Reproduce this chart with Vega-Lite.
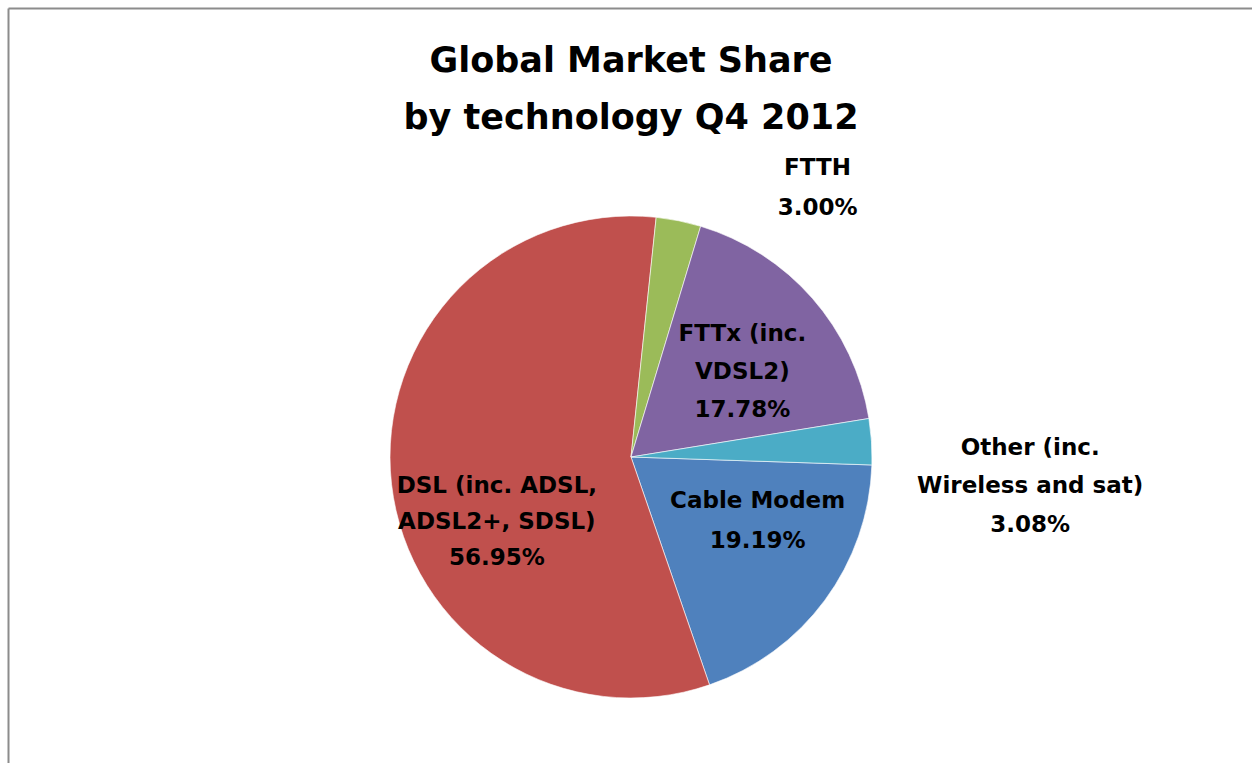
{
  "$schema": "https://vega.github.io/schema/vega-lite/v6.json",
  "width": 1246,
  "height": 898,
  "autosize": {"type": "none"},
  "padding": {"left": 8, "top": 8, "right": -2, "bottom": -143},
  "background": "white",
  "view": {"stroke": null},
  "config": {
    "view": {"stroke": null},
    "text": {"font": "DejaVu Sans", "fontWeight": "bold", "fontSize": 23, "color": "#000000"}
  },
  "title": {
    "text": ["Global Market Share", "by technology Q4 2012"],
    "font": "DejaVu Sans",
    "fontWeight": "bold",
    "fontSize": 35,
    "lineHeight": 57,
    "color": "#000000",
    "anchor": "middle",
    "baseline": "bottom",
    "offset": -163
  },
  "data": {
    "values": [
      {"category": "Cable Modem", "share": 19.19, "text": "Cable Modem\n19.19%"},
      {"category": "DSL", "share": 56.95, "text": "DSL (inc. ADSL,\nADSL2+, SDSL)\n56.95%"},
      {"category": "FTTH", "share": 3.00, "text": "FTTH\n3.00%"},
      {"category": "FTTx", "share": 17.78, "text": "FTTx (inc.\nVDSL2)\n17.78%"},
      {"category": "Other", "share": 3.08, "text": "Other (inc.\nWireless and sat)\n3.08%"}
    ]
  },
  "layer": [
    {
      "encoding": {
        "theta": {"field": "share", "type": "quantitative", "stack": true, "scale": {"range": [1.604, 7.887]}},
        "color": {
          "field": "category",
          "type": "nominal",
          "legend": null,
          "scale": {
            "domain": ["Cable Modem", "DSL", "FTTH", "FTTx", "Other"],
            "range": ["#4F81BD", "#C0504D", "#9BBB59", "#8064A2", "#4BACC6"]
          }
        }
      },
      "layer": [
        {"mark": {"type": "arc", "outerRadius": 241, "stroke": "#ffffff", "strokeWidth": 0.6}},
        {
          "mark": {"type": "text", "radius": 145, "dx": 10, "dy": -42, "lineBreak": "\n", "lineHeight": 40, "baseline": "middle", "fill": "#000000"},
          "encoding": {"text": {"condition": {"test": "datum.category === 'Cable Modem'", "field": "text"}, "value": ""}}
        },
        {
          "mark": {"type": "text", "radius": 135, "dx": 0, "dy": 14, "lineBreak": "\n", "lineHeight": 36, "baseline": "middle", "fill": "#000000"},
          "encoding": {"text": {"condition": {"test": "datum.category === 'DSL'", "field": "text"}, "value": ""}}
        },
        {
          "mark": {"type": "text", "radius": 276, "dx": 132, "dy": -18, "lineBreak": "\n", "lineHeight": 40, "baseline": "middle", "fill": "#000000"},
          "encoding": {"text": {"condition": {"test": "datum.category === 'FTTH'", "field": "text"}, "value": ""}}
        },
        {
          "mark": {"type": "text", "radius": 140, "dx": 6, "dy": -31, "lineBreak": "\n", "lineHeight": 38, "baseline": "middle", "fill": "#000000"},
          "encoding": {"text": {"condition": {"test": "datum.category === 'FTTx'", "field": "text"}, "value": ""}}
        },
        {
          "mark": {"type": "text", "radius": 400, "dx": 0, "dy": 16, "lineBreak": "\n", "lineHeight": 38.5, "baseline": "middle", "fill": "#000000"},
          "encoding": {"text": {"condition": {"test": "datum.category === 'Other'", "field": "text"}, "value": ""}}
        }
      ]
    },
    {
      "mark": {"type": "point", "opacity": 0},
      "encoding": {
        "x": {
          "datum": 0,
          "type": "quantitative",
          "scale": {"domain": [0, 1]},
          "axis": {"orient": "top", "domainColor": "#8c8c8c", "domainWidth": 2, "ticks": false, "labels": false, "grid": false, "title": null}
        },
        "y": {
          "datum": 0,
          "type": "quantitative",
          "scale": {"domain": [0, 1]},
          "axis": {"orient": "left", "domainColor": "#8c8c8c", "domainWidth": 2, "ticks": false, "labels": false, "grid": false, "title": null}
        }
      }
    }
  ]
}
